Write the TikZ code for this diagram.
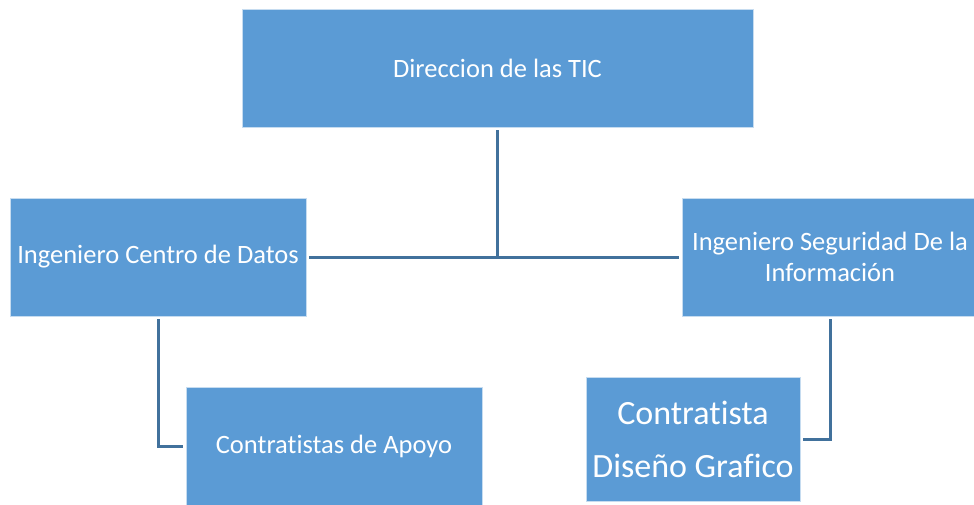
\documentclass[tikz,border=0pt]{standalone}
\usepackage{fontspec}
\setmainfont{Carlito}[Ligatures=NoCommon]
\definecolor{boxblue}{HTML}{5B9BD5}
\definecolor{linkblue}{HTML}{41719C}
\begin{document}
\begin{tikzpicture}[x=1pt,y=-1pt,
  box/.style={fill=boxblue, draw=white!65!boxblue, line width=0.8pt, text=white,
    align=center, inner sep=0pt, font=\fontsize{26.5}{31}\selectfont},
  link/.style={draw=linkblue, line width=3pt}]
\useasboundingbox (0,0) rectangle (974,504);
\node[box, minimum width=511pt, minimum height=118pt] (top) at (497.5,68) {Direccion de las TIC};
\node[box, minimum width=296pt, minimum height=118pt] (left) at (158,257) {Ingeniero Centro de Datos};
\node[box, minimum width=296pt, minimum height=118pt] (right) at (830,257) {Ingeniero Seguridad De la\\Información};
\node[box, minimum width=296pt, minimum height=118pt] (apoyo) at (334,446) {Contratistas de Apoyo};
\node[box, minimum width=214pt, minimum height=124pt, font=\fontsize{34}{53}\selectfont] (diseno) at (693,439) {Contratista\\Diseño Grafico};
\draw[link, shorten <=3pt] (top.south) -- (top.south |- left.east);
\draw[link, shorten <=3pt, shorten >=3pt] (left.east) -- (right.west);
\draw[link, shorten <=3pt, shorten >=3pt] (left.south) |- (apoyo.west);
\draw[link, shorten <=3pt, shorten >=3pt] (right.south) |- (diseno.east);
\end{tikzpicture}
\end{document}
